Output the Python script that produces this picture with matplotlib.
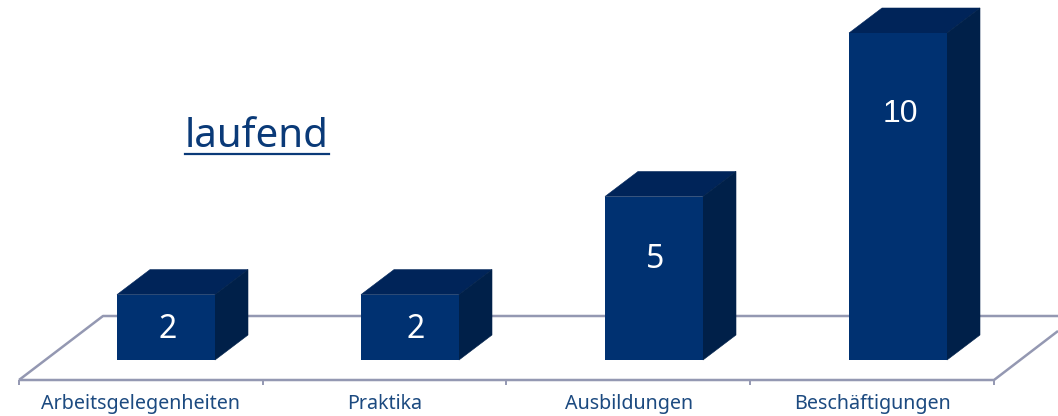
import matplotlib
matplotlib.use("Agg")
import matplotlib.pyplot as plt
from matplotlib.patches import Polygon

categories = ["Arbeitsgelegenheiten", "Praktika", "Ausbildungen", "Beschäftigungen"]
values = [2, 2, 5, 10]
value_fonts = ["Noto Sans", "Noto Sans", "Noto Sans", "Liberation Sans"]
title = "laufend"

W, H = 1058, 416
SX, SY = 244.0, 32.7      # px per category / per unit
X0, Y0 = 166.0, 360.0     # px of first bar centre / baseline
px = lambda x: (x - X0) / SX
py = lambda y: (Y0 - y) / SY

fig = plt.figure(figsize=(W / 100, H / 100), dpi=100)
ax = fig.add_axes([0, 0, 1, 1])
ax.set_xlim(px(0), px(W))
ax.set_ylim(py(H), py(0))
ax.axis("off")

FRONT, TOP, SIDE = "#003171", "#002459", "#002049"
GRID, LABEL = "#9498b2", "#1c4a80"

# floor
ax.plot([px(19), px(103), px(1058)], [py(380), py(316), py(316)], color=GRID, lw=1.8, zorder=1, solid_capstyle="butt")
ax.plot([px(19), px(994), px(1058)], [py(380), py(380), py(331)], color=GRID, lw=1.8, zorder=1, solid_capstyle="butt")
for k in range(5):
    t = 19 + k * 243.75
    ax.plot([px(t), px(t)], [py(380), py(385)], color=GRID, lw=1.4, zorder=1, solid_capstyle="butt")

DX, DY = 33 / SX, 25 / SY
BW = 98 / SX
pos = list(range(len(categories)))
label_y_px = [326, 326, 256, 111]
label_dx_px = [2, 6, 1, 2]
for x, v, f, ly, ldx in zip(pos, values, value_fonts, label_y_px, label_dx_px):
    l, r = x - BW / 2, x + BW / 2
    ax.add_patch(Polygon([(l, v), (r, v), (r + DX, v + DY), (l + DX, v + DY)], fc=TOP, ec=TOP, lw=0.4, zorder=2.5))
    ax.add_patch(Polygon([(r, 0), (r + DX, DY), (r + DX, v + DY), (r, v)], fc=SIDE, ec=SIDE, lw=0.4, zorder=2.6))
    ax.text(x + ldx / SX, py(ly), str(v), color="white", fontsize=23, family=f,
            ha="center", va="center_baseline", zorder=4)
ax.bar(pos, values, width=BW, color=FRONT, lw=0, zorder=3)

for x, c in zip(pos, categories):
    ax.text(px(141 + 244 * x), py(404), c, color=LABEL, fontsize=14.2, family="Noto Sans", ha="center", va="center")

ax.text(px(257), py(137), title, color="#0a3a78", fontsize=29, family="Noto Sans", ha="center", va="center")
ax.plot([px(185), px(329)], [py(154), py(154)], color="#0a3a78", lw=1.6)

fig.savefig("out.png", dpi=100)
